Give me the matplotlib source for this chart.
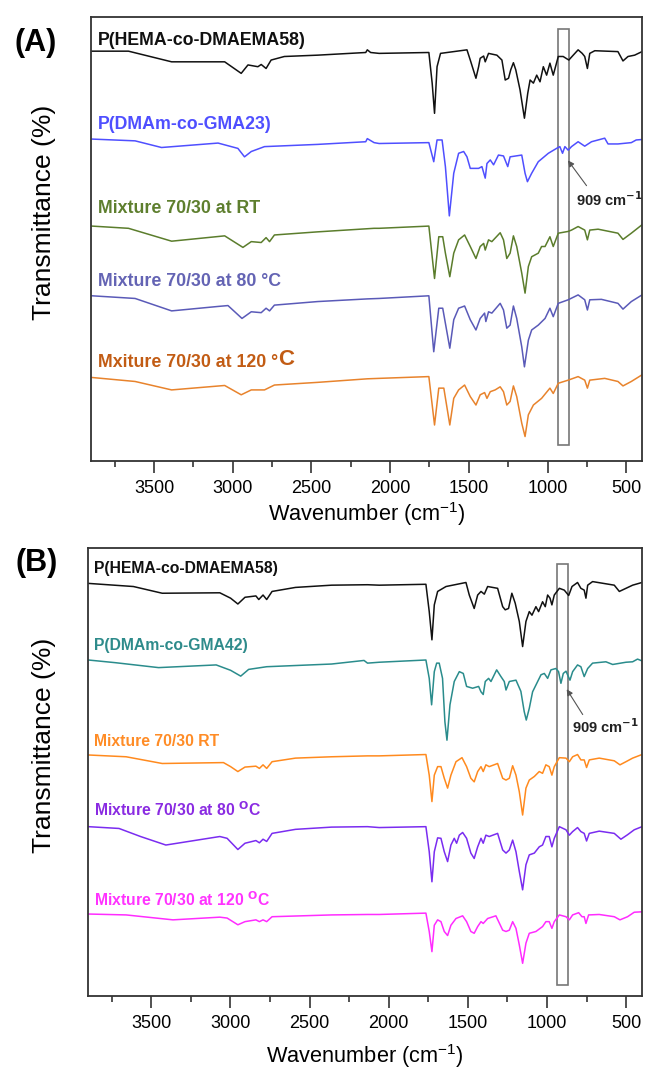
import matplotlib
matplotlib.use("Agg")
import matplotlib.pyplot as plt
from matplotlib.patches import Rectangle
from matplotlib.ticker import MultipleLocator
from matplotlib.transforms import blended_transform_factory

plt.rcParams['font.family'] = ['Liberation Sans', 'DejaVu Sans']

# ---- panel A spectra (wavenumber, stacked transmittance in axis units 0-100) ----
a_black_wn = [3894, 3662, 3388, 3051, 2946, 2903, 2840, 2819, 2788, 2756, 2672, 2461, 2155, 2145, 2124,
              2070, 1754, 1733, 1718, 1702, 1680, 1512, 1491, 1455, 1438, 1428, 1406, 1396, 1375, 1322,
              1290, 1269, 1248, 1234, 1217, 1202, 1175, 1147, 1126, 1111, 1090, 1069, 1048, 1027, 1006,
              985, 964, 932, 901, 865, 837, 806, 780, 764, 747, 732, 700, 553, 521, 489, 447, 400]
a_black_t = [92.3, 92.3, 89.9, 89.9, 87.3, 89.2, 88.8, 89.3, 88.4, 90.3, 91.1, 91.4, 92.0, 92.6, 92.0,
             91.8, 92.0, 85.1, 78.3, 88.8, 91.8, 92.6, 90.3, 86.2, 88.8, 90.7, 91.2, 89.9, 91.8, 91.4,
             90.3, 85.8, 86.2, 88.1, 89.7, 88.1, 83.6, 77.2, 82.8, 85.8, 85.1, 86.9, 85.4, 88.8, 86.9,
             89.6, 86.9, 91.1, 91.1, 90.3, 91.4, 92.6, 91.8, 91.1, 88.4, 91.8, 92.4, 92.2, 90.1, 91.1, 91.4, 92.2]

a_blue_wn = [3894, 3620, 3452, 3093, 2967, 2925, 2882, 2798, 2461, 2155, 2145, 2102,
             2070, 1754, 1723, 1702, 1670, 1649, 1624, 1596, 1565, 1533, 1512, 1491, 1438, 1417, 1396,
             1385, 1364, 1343, 1312, 1280, 1253, 1238, 1164, 1143, 1128, 1101, 1059, 995, 943, 922,
             905, 890, 869, 848, 806, 764, 721, 637, 616, 553, 468, 437, 400]
a_blue_t = [72.5, 72.1, 70.6, 71.6, 70.4, 68.5, 69.7, 70.8, 71.3, 71.9, 72.6, 71.7,
            71.5, 71.7, 67.4, 72.3, 72.3, 66.3, 55.2, 64.8, 69.3, 69.7, 68.5, 65.9, 65.9, 66.3, 63.7,
            67.0, 67.8, 66.7, 68.9, 68.7, 66.3, 68.5, 68.9, 64.8, 62.9, 64.8, 67.4, 69.3, 70.4, 70.8,
            69.3, 70.8, 70.0, 70.8, 71.9, 70.9, 71.9, 72.7, 71.4, 71.4, 71.7, 72.3, 72.4]

a_green_wn = [3894, 3662, 3388, 3051, 2935, 2882, 2819, 2788, 2766, 2735, 2461, 2102,
              2070, 1754, 1718, 1691, 1666, 1649, 1621, 1596, 1565, 1527, 1491, 1455, 1428, 1406,
              1396, 1375, 1354, 1301, 1280, 1259, 1238, 1217, 1196, 1164, 1143, 1122, 1101, 1059,
              1038, 1016, 985, 964, 932, 869, 848, 806, 764, 747, 732, 679, 553, 521, 468, 400]
a_green_t = [52.9, 52.4, 49.5, 50.7, 48.1, 49.4, 49.2, 50.3, 49.4, 50.9, 51.6, 52.4,
             52.4, 52.9, 41.1, 50.5, 50.5, 46.8, 41.5, 46.8, 49.8, 50.9, 48.3, 45.6, 48.3, 49.0,
             47.5, 49.8, 49.4, 51.4, 49.8, 45.6, 46.8, 50.7, 48.3, 42.3, 37.8, 43.8, 46.0, 46.8,
             48.3, 48.3, 50.5, 48.3, 51.3, 51.7, 52.0, 52.8, 52.0, 49.8, 52.0, 52.2, 51.3, 49.9, 51.3, 53.2]

a_slate_wn = [3894, 3620, 3388, 3093, 3030, 2941, 2882, 2819, 2788, 2766, 2735, 2461, 2145,
              2070, 1754, 1723, 1691, 1666, 1621, 1596, 1565, 1527, 1491, 1455, 1428, 1400, 1392,
              1375, 1354, 1301, 1280, 1259, 1238, 1217, 1196, 1164, 1147, 1122, 1101, 1059, 1016,
              985, 964, 932, 869, 806, 764, 747, 732, 658, 553, 521, 468, 400]
a_slate_t = [37.2, 36.6, 33.8, 34.8, 35.0, 32.1, 33.6, 33.4, 34.4, 33.8, 35.1, 35.9, 36.5,
             36.6, 37.2, 24.6, 34.4, 34.4, 25.4, 31.8, 34.4, 34.9, 31.8, 29.5, 32.1, 33.3, 31.4,
             33.6, 33.3, 35.5, 34.0, 29.9, 30.6, 34.9, 32.1, 25.7, 21.2, 27.2, 29.5, 30.6, 32.1,
             34.4, 32.5, 35.5, 36.3, 37.4, 36.3, 34.0, 36.3, 36.4, 35.5, 34.2, 35.9, 37.4]

a_orange_wn = [3894, 3620, 3388, 3051, 2946, 2882, 2798, 2735, 2461, 2145,
               2070, 1754, 1718, 1691, 1659, 1621, 1596, 1565, 1527, 1491, 1455, 1428, 1400, 1385,
               1364, 1333, 1301, 1280, 1259, 1238, 1217, 1196, 1164, 1143, 1122, 1090, 1038, 985,
               964, 932, 869, 806, 764, 747, 732, 637, 553, 521, 468, 400]
a_orange_t = [18.8, 17.9, 16.0, 17.0, 14.9, 16.0, 16.0, 17.1, 17.7, 18.5,
              18.6, 19.0, 8.1, 16.4, 16.4, 8.1, 14.1, 16.0, 17.1, 14.5, 12.6, 14.9, 15.4, 14.1,
              15.6, 16.0, 16.7, 15.6, 12.6, 13.4, 16.9, 14.5, 8.5, 5.5, 10.4, 12.6, 14.1, 16.4,
              15.2, 17.5, 18.2, 19.0, 18.2, 16.4, 18.2, 18.6, 17.9, 16.9, 17.9, 19.4]

# ---- panel B spectra ----
b_black_wn = [3898, 3613, 3431, 3067, 2999, 2953, 2908, 2839, 2821, 2794, 2771, 2737, 2589, 2361, 2134,
              2060, 1765, 1744, 1727, 1712, 1691, 1638, 1512, 1491, 1460, 1438, 1417, 1396, 1375, 1312,
              1280, 1264, 1243, 1222, 1201, 1175, 1154, 1133, 1112, 1095, 1070, 1053, 1028, 1011, 996,
              981, 969, 954, 922, 891, 863, 842, 807, 786, 765, 754, 743, 712, 575, 543, 501, 459, 400]
b_black_t = [92.1, 91.4, 89.9, 90.0, 88.8, 87.5, 89.0, 89.3, 88.5, 89.5, 88.5, 90.3, 91.2, 91.7, 91.8,
             91.7, 91.9, 85.8, 79.5, 87.3, 90.3, 91.4, 92.3, 89.5, 86.5, 89.5, 90.3, 89.7, 91.4, 91.0,
             86.9, 86.2, 86.5, 89.9, 87.7, 83.6, 78.0, 83.6, 85.8, 85.0, 86.9, 85.8, 88.0, 86.9, 89.5,
             88.8, 87.3, 89.5, 91.0, 90.6, 89.4, 91.4, 92.3, 91.0, 90.6, 88.8, 91.7, 92.5, 91.7, 90.3, 91.0, 91.7, 92.3]

b_teal_wn = [3898, 3727, 3454, 3090, 2999, 2935, 2885, 2771, 2361, 2156, 2134,
             2060, 1765, 1744, 1729, 1712, 1697, 1681, 1660, 1645, 1632, 1613, 1586, 1554, 1529, 1508,
             1470, 1432, 1417, 1403, 1390, 1369, 1354, 1318, 1291, 1270, 1259, 1238, 1196, 1165, 1144,
             1131, 1112, 1091, 1059, 1038, 1017, 996, 975, 944, 927, 912, 897, 880, 855, 838, 807, 786,
             765, 743, 712, 628, 585, 501, 459, 428, 400]
b_teal_t = [75.0, 74.4, 73.3, 73.9, 72.7, 71.4, 72.9, 73.5, 74.1, 74.9, 74.3,
            74.5, 75.0, 70.9, 65.0, 72.4, 74.3, 74.3, 70.9, 61.2, 57.1, 65.0, 70.2, 72.4, 72.0, 69.1,
            68.7, 69.1, 67.9, 67.3, 70.2, 70.9, 70.2, 72.8, 71.3, 70.2, 68.3, 70.2, 70.5, 68.0, 63.5,
            61.6, 64.2, 67.9, 70.2, 71.7, 72.0, 70.9, 72.8, 73.1, 72.4, 69.8, 72.0, 72.5, 70.5, 72.4, 73.9, 73.5,
            71.3, 73.1, 74.3, 74.6, 74.0, 74.5, 74.6, 75.2, 74.8]

b_orange_wn = [3898, 3659, 3431, 3044, 2999, 2953, 2908, 2839, 2817, 2794, 2771, 2737, 2589, 2361, 2134,
               2060, 1765, 1744, 1727, 1712, 1691, 1670, 1649, 1628, 1607, 1575, 1537, 1508, 1481, 1460,
               1438, 1417, 1403, 1386, 1365, 1312, 1280, 1259, 1238, 1217, 1196, 1175, 1154, 1133, 1112,
               1080, 1049, 1028, 1007, 986, 969, 954, 922, 880, 859, 838, 807, 786, 765, 750, 733, 670,
               575, 539, 501, 459, 400]
b_orange_t = [53.8, 53.4, 51.9, 52.1, 51.2, 50.1, 51.1, 51.3, 50.8, 51.6, 50.8, 52.3, 53.1, 53.4, 53.6,
              53.6, 53.9, 49.3, 43.4, 49.3, 51.2, 51.2, 48.6, 46.4, 49.3, 52.3, 53.2, 51.2, 48.6, 47.8,
              50.1, 51.2, 50.1, 51.6, 51.2, 51.9, 48.6, 48.2, 48.6, 51.4, 49.3, 45.6, 40.4, 46.4, 48.2,
              49.0, 50.1, 49.7, 51.6, 51.2, 49.3, 51.2, 53.2, 53.1, 52.3, 53.4, 53.9, 52.7, 52.7, 51.0, 52.7, 53.1,
              52.5, 51.6, 52.3, 53.1, 53.9]

b_purple_wn = [3898, 3704, 3568, 3408, 3067, 3021, 2953, 2908, 2839, 2817, 2794, 2771, 2737, 2589, 2361, 2134,
               2060, 1765, 1744, 1727, 1712, 1691, 1670, 1649, 1628, 1607, 1586, 1571, 1554, 1533, 1508,
               1481, 1460, 1438, 1417, 1403, 1386, 1365, 1312, 1280, 1259, 1238, 1217, 1196, 1175, 1154,
               1133, 1112, 1080, 1049, 1028, 1007, 986, 969, 954, 922, 880, 859, 838, 807, 786, 765, 750,
               733, 670, 575, 533, 491, 449, 400]
b_purple_t = [37.8, 37.4, 35.6, 33.7, 35.6, 35.2, 32.7, 34.1, 34.7, 34.2, 35.0, 34.5, 36.3, 37.2, 37.7, 37.8,
              37.6, 37.8, 32.2, 25.5, 32.2, 35.3, 35.2, 32.2, 30.0, 33.7, 35.2, 34.1, 35.9, 36.5, 35.2,
              31.9, 30.7, 33.3, 35.2, 34.1, 35.9, 35.6, 36.3, 32.6, 31.9, 32.6, 34.8, 32.2, 27.8, 23.7,
              29.3, 31.5, 31.9, 33.3, 33.7, 35.6, 35.6, 33.3, 35.2, 37.8, 37.1, 35.9, 36.7, 37.6, 36.7, 36.3, 34.6,
              36.3, 36.8, 36.3, 35.0, 36.0, 37.1, 37.8]

b_magenta_wn = [3898, 3659, 3363, 3067, 3021, 2953, 2908, 2839, 2817, 2794, 2771, 2737, 2361, 2134,
                2060, 1765, 1744, 1727, 1712, 1691, 1670, 1649, 1628, 1607, 1575, 1533, 1508, 1481, 1460,
                1438, 1417, 1403, 1375, 1323, 1280, 1259, 1238, 1217, 1196, 1175, 1154, 1133, 1112, 1070,
                1028, 1007, 986, 969, 954, 922, 880, 859, 838, 800, 779, 765, 754, 737, 670, 575, 539,
                491, 449, 400]
b_magenta_t = [18.3, 18.1, 17.0, 17.6, 17.4, 15.9, 16.6, 17.0, 16.6, 17.0, 16.6, 17.7, 18.1, 18.2,
               18.2, 18.5, 14.4, 9.9, 15.8, 17.0, 16.6, 14.4, 13.5, 15.8, 17.3, 17.9, 16.6, 14.4, 14.0,
               15.5, 16.6, 16.2, 17.3, 17.9, 14.7, 14.4, 14.7, 16.6, 15.1, 11.4, 7.3, 11.8, 14.0, 14.4,
               15.5, 16.6, 16.6, 15.1, 16.6, 18.1, 17.7, 17.0, 18.1, 18.6, 17.7, 17.7, 16.2, 18.1, 18.2, 17.7, 17.0,
               17.7, 18.7, 18.8]

a_labels = ['P(HEMA-co-DMAEMA58)', 'P(DMAm-co-GMA23)', 'Mixture 70/30 at RT',
            'Mixture 70/30 at 80 °C', 'Mxiture 70/30 at 120 °']
b_labels = ['P(HEMA-co-DMAEMA58)', 'P(DMAm-co-GMA42)', 'Mixture 70/30 RT',
            r'Mixture 70/30 at 80 $^{\mathbf{O}}$C', r'Mixture 70/30 at 120 $^{\mathbf{O}}$C']
x_ticks = [3500, 3000, 2500, 2000, 1500, 1000, 500]

a_line_colors = ['#111111', '#4f4fff', '#5b7d2c', '#5a5ab8', '#e8832c']
a_text_colors = ['#111111', '#4f4fff', '#5e7f2e', '#6464b4', '#c25c14']
b_line_colors = ['#111111', '#2a8c8c', '#ff8a1e', '#7a2cf0', '#ff2cff']
b_text_colors = ['#111111', '#2e8b8b', '#ff8c26', '#8a2be2', '#ff33ff']


def style_axes(ax):
    ax.set_xlim(3900, 400)
    ax.set_ylim(0, 100)
    ax.set_xticks(x_ticks)
    ax.xaxis.set_minor_locator(MultipleLocator(250))
    ax.set_yticks([])
    ax.tick_params(axis='x', which='major', direction='out', length=8.5, width=1.2,
                   labelsize=13, pad=5, color='#333333')
    ax.tick_params(axis='x', which='minor', direction='out', length=4.3, width=1.2, color='#333333')
    for s in ax.spines.values():
        s.set_color('#333333')
        s.set_linewidth(1.3)
    ax.set_xlabel('Wavenumber (cm$^{\\mathregular{-1}}$)', fontsize=15.7)
    ax.set_ylabel('Transmittance (%)', fontsize=19)


fig = plt.figure(figsize=(6.45, 10.68), dpi=100)
axA = fig.add_axes([0.1411, 0.5684, 0.8543, 0.4157])
axB = fig.add_axes([0.1364, 0.0674, 0.8589, 0.4195])

a_series = [(a_black_wn, a_black_t), (a_blue_wn, a_blue_t), (a_green_wn, a_green_t),
            (a_slate_wn, a_slate_t), (a_orange_wn, a_orange_t)]
b_series = [(b_black_wn, b_black_t), (b_teal_wn, b_teal_t), (b_orange_wn, b_orange_t),
            (b_purple_wn, b_purple_t), (b_magenta_wn, b_magenta_t)]

for (wn, t), c in zip(a_series, a_line_colors):
    axA.plot(wn, t, color=c, lw=1.1)
for (wn, t), c in zip(b_series, b_line_colors):
    axB.plot(wn, t, color=c, lw=1.1)

style_axes(axA)
style_axes(axB)
axA.yaxis.set_label_coords(-0.063, 0.56)
axB.yaxis.set_label_coords(-0.058, 0.56)
axA.xaxis.set_label_coords(0.5, -0.088)
axB.xaxis.set_label_coords(0.5, -0.103)

# labels above each trace
a_label_y = [0.948, 0.758, 0.569, 0.404, 0.221]
b_label_y = [0.955, 0.783, 0.567, 0.415, 0.216]
last = None
for lab, y, c in zip(a_labels, a_label_y, a_text_colors):
    last = axA.text(0.013, y, lab, transform=axA.transAxes, color=c, fontsize=12.8,
                    fontweight='bold', va='center', ha='left')
axA.annotate('C', xy=(1, 0.05), xycoords=last, va='bottom', ha='left', fontsize=16,
             fontweight='bold', color=a_text_colors[-1])
for lab, y, c in zip(b_labels, b_label_y, b_text_colors):
    axB.text(0.0116, y, lab, transform=axB.transAxes, color=c, fontsize=11.3,
             fontweight='bold', va='center', ha='left')

# 909 cm-1 boxes and arrows
for ax, x0, x1, y0, y1 in [(axA, 863, 936, 0.036, 0.972), (axB, 870, 934, 0.0246, 0.9636)]:
    tr = blended_transform_factory(ax.transData, ax.transAxes)
    ax.add_patch(Rectangle((x0, y0), x1 - x0, y1 - y0, transform=tr, fill=False,
                           edgecolor='#777777', lw=1.2))

axA.annotate('', xy=(881, 68.2), xytext=(742, 61.5),
             arrowprops=dict(arrowstyle='-|>', color='#555555', lw=0.8, mutation_scale=9))
axA.text(818, 58.8, r'909 cm$^{\mathbf{-1}}$', fontsize=10.5, fontweight='bold',
         va='center', ha='left', color='#222222')
axB.annotate('', xy=(885, 69.0), xytext=(765, 62.3),
             arrowprops=dict(arrowstyle='-|>', color='#555555', lw=0.8, mutation_scale=9))
axB.text(839, 60.1, r'909 cm$^{\mathbf{-1}}$', fontsize=10.5, fontweight='bold',
         va='center', ha='left', color='#222222')

fig.text(36 / 645, 1 - 43 / 1068, '(A)', fontsize=22, fontweight='bold', ha='center', va='center')
fig.text(37 / 645, 1 - 563 / 1068, '(B)', fontsize=22, fontweight='bold', ha='center', va='center')

fig.savefig('out.png', dpi=100)
